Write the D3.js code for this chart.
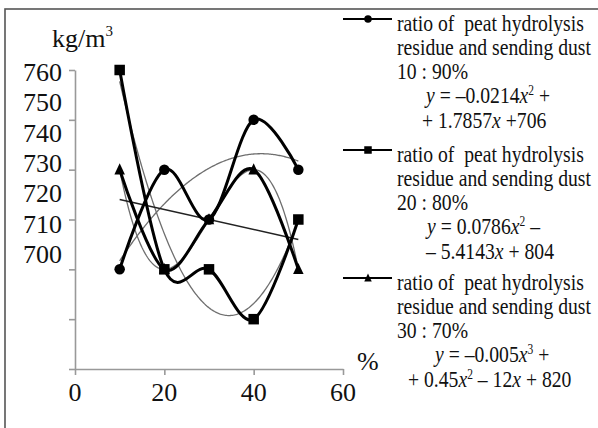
<!DOCTYPE html>
<html>
<head>
<meta charset="utf-8">
<script src="https://cdn.jsdelivr.net/npm/d3@7"></script>
<style>
  body { margin: 0; background: #fff; }
  svg { display: block; }
  text { font-family: "Liberation Serif", "Times New Roman", serif; fill: #111; white-space: pre; }
</style>
</head>
<body>
<svg width="598" height="428"></svg>
<script>
// content % of peat hydrolysis residue (x) and bulk density (y)
const xVals = [10, 20, 30, 40, 50]
const dens10 = [700, 730, 715, 745, 730]   // 10 : 90%
const dens20 = [760, 700, 700, 685, 715]   // 20 : 80%
const dens30 = [730, 700, 715, 730, 700]   // 30 : 70%

const xTicks = [0, 20, 40, 60]
const yTicks = [670, 685, 700, 715, 730, 745, 760]
const yTickLabels = ["760", "750", "740", "730", "720", "710", "700"]

const legendText = ["ratio of  peat hydrolysis", "residue and sending dust"]
const ratioText = ["10 : 90%", "20 : 80%", "30 : 70%"]
// equation pieces: i = italic, n = normal, s = superscript
const equations = [
  [[["i","y"],["n"," = –0.0214"],["i","x"],["s","2"],["n"," +"]],
   [["n","+ 1.7857"],["i","x"],["n"," +706"]]],
  [[["i","y"],["n"," = 0.0786"],["i","x"],["s","2"],["n"," –"]],
   [["n","– 5.4143"],["i","x"],["n"," + 804"]]],
  [[["i","y"],["n"," = –0.005"],["i","x"],["s","3"],["n"," +"]],
   [["n","+ 0.45"],["i","x"],["s","2"],["n"," – 12"],["i","x"],["n"," + 820"]]]
]

const series = [
  {name: "c", values: dens10, marker: "circle", degree: 2},
  {name: "s", values: dens20, marker: "square", degree: 2},
  {name: "t", values: dens30, marker: "triangle", degree: 3}
]

const svg = d3.select("svg")

// outer frame
svg.append("rect")
  .attr("x", 5).attr("y", 9)
  .attr("width", 620).attr("height", 440)
  .attr("fill", "none").attr("stroke", "#555").attr("stroke-width", 1.6)

const x = d3.scaleLinear().domain([0, 60]).range([75, 343])
const y = d3.scaleLinear().domain([670, 760]).range([369, 70])

// axes
const gx = svg.append("g").attr("transform", "translate(0," + y(670) + ")")
  .call(d3.axisBottom(x).tickValues(xTicks).tickSize(6).tickSizeOuter(0).tickFormat(""))
const gy = svg.append("g").attr("transform", "translate(" + x(0) + ",0)")
  .call(d3.axisLeft(y).tickValues(yTicks).tickSize(6).tickSizeOuter(0).tickFormat(""))
svg.selectAll(".domain, .tick line").attr("stroke", "#999").attr("stroke-width", 1.6)

// x tick labels
svg.selectAll(".xlab").data(xTicks).enter().append("text")
  .attr("x", d => x(d)).attr("y", 401)
  .attr("text-anchor", "middle").attr("font-size", 26)
  .text(d => d)

// y tick labels (as printed in the figure, not aligned with ticks)
const yl = d3.scalePoint().domain(yTickLabels).range([72, 254])
svg.selectAll(".ylab").data(yTickLabels).enter().append("text")
  .attr("x", 62).attr("y", d => yl(d) + 9)
  .attr("text-anchor", "end").attr("font-size", 26)
  .text(d => d)

const unit = svg.append("text").attr("x", 52).attr("y", 47).attr("font-size", 26)
unit.append("tspan").text("kg/m")
unit.append("tspan").attr("font-size", 15).attr("dy", -11).text("3")

svg.append("text").attr("x", 357).attr("y", 370).attr("font-size", 26).text("%")

// least squares polynomial fit
function polyfit(xs, ys, deg) {
  const n = deg + 1
  const A = d3.range(n).map(i => d3.range(n + 1).map(j => 0))
  xs.forEach((xv, k) => {
    for (let i = 0; i < n; i++) {
      for (let j = 0; j < n; j++) A[i][j] += Math.pow(xv, i + j)
      A[i][n] += ys[k] * Math.pow(xv, i)
    }
  })
  for (let i = 0; i < n; i++) {
    let p = i
    for (let r = i + 1; r < n; r++) if (Math.abs(A[r][i]) > Math.abs(A[p][i])) p = r
    const tmp = A[i]; A[i] = A[p]; A[p] = tmp
    for (let r = 0; r < n; r++) {
      if (r === i) continue
      const f = A[r][i] / A[i][i]
      for (let c = i; c <= n; c++) A[r][c] -= f * A[i][c]
    }
  }
  const coef = d3.range(n).map(i => A[i][n] / A[i][i])
  return xv => coef.reduce((s, c, i) => s + c * Math.pow(xv, i), 0)
}

const trendLine = d3.line().x(d => x(d[0])).y(d => y(d[1]))
const xs = d3.range(xVals[0], xVals[xVals.length - 1] + 0.01, 0.25)

series.forEach(s => {
  const f = polyfit(xVals, s.values, s.degree)
  svg.append("path")
    .attr("d", trendLine(xs.map(v => [v, f(v)])))
    .attr("fill", "none").attr("stroke", "#6e6e6e").attr("stroke-width", 1.3)
})
// linear trend of the 30 : 70% series
const lin = polyfit(xVals, dens30, 1)
svg.append("path")
  .attr("d", trendLine([xVals[0], xVals[xVals.length - 1]].map(v => [v, lin(v)])))
  .attr("fill", "none").attr("stroke", "#222").attr("stroke-width", 1.6)

// smoothed series
const smooth = d3.line().x(d => x(d[0])).y(d => y(d[1])).curve(d3.curveCardinal.tension(0))
series.forEach(s => {
  svg.append("path")
    .attr("d", smooth(xVals.map((v, i) => [v, s.values[i]])))
    .attr("fill", "none").attr("stroke", "#000").attr("stroke-width", 3)
})

function drawMarker(g, type, cx, cy, size) {
  if (type === "circle") {
    g.append("circle").attr("cx", cx).attr("cy", cy).attr("r", size / 2).attr("fill", "#000")
  } else if (type === "square") {
    g.append("rect").attr("x", cx - size / 2).attr("y", cy - size / 2)
      .attr("width", size).attr("height", size).attr("fill", "#000")
  } else {
    const h = size
    g.append("path").attr("d", "M" + cx + "," + (cy - h * 0.6) + "L" + (cx + size / 2) + "," + (cy + h * 0.45) +
      "L" + (cx - size / 2) + "," + (cy + h * 0.45) + "Z").attr("fill", "#000")
  }
}

const markers = svg.append("g")
series.forEach(s => {
  xVals.forEach((v, i) => drawMarker(markers, s.marker, x(v), y(s.values[i]), 10.5))
})

// legend
const legendTop = [31, 162, 290]
const lineOff = [0, 24, 48, 72, 97]
const eqX = [[426, 422], [427, 426], [435, 408]]
const squeeze = 0.82

function legendLine(px, py, parts) {
  const t = svg.append("text")
    .attr("transform", "translate(" + px + "," + py + ") scale(" + squeeze + ",1)")
    .attr("font-size", 24)
  parts.forEach(p => {
    const sp = t.append("tspan").text(p[1])
    if (p[0] === "i") sp.attr("font-style", "italic")
    if (p[0] === "s") sp.attr("font-size", 14).attr("baseline-shift", "super")
  })
  return t
}

series.forEach((s, k) => {
  const top = legendTop[k]
  const ly = top - 12
  svg.append("line").attr("x1", 343).attr("x2", 392).attr("y1", ly).attr("y2", ly)
    .attr("stroke", "#000").attr("stroke-width", 2)
  drawMarker(svg, s.marker, 368, ly, 7.5)
  legendLine(397, top + lineOff[0], [["n", legendText[0]]])
  legendLine(397, top + lineOff[1], [["n", legendText[1]]])
  legendLine(397, top + lineOff[2], [["n", ratioText[k]]])
  legendLine(eqX[k][0], top + lineOff[3], equations[k][0])
  legendLine(eqX[k][1], top + lineOff[4], equations[k][1])
})
</script>
</body>
</html>
